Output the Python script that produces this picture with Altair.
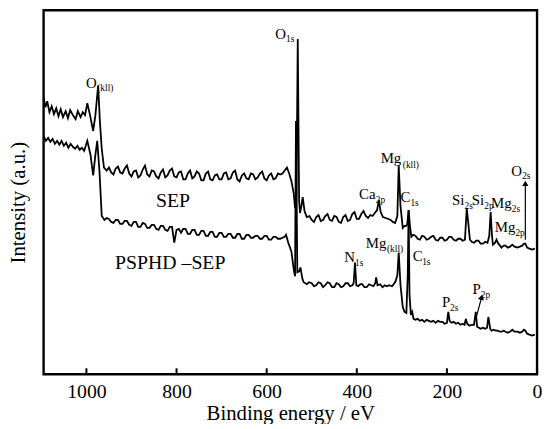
import altair as alt
import pandas as pd

# ---------------- data ----------------
sep_energy = [1095, 1091, 1087, 1082, 1077, 1072, 1067, 1062, 1057, 1052, 1046, 1041, 1036, 1030, 1024, 1019,
              1013, 1008, 1003, 998, 992, 985, 980, 974, 970, 966, 961, 955,
              950, 945, 940, 935, 930, 925, 920, 915, 910, 905, 900, 895, 890, 885, 880, 875, 870, 865, 860, 855,
              850, 845, 840, 835, 830, 825, 820, 815, 810, 805, 800, 795, 790, 785, 780, 775, 770, 765, 760, 755,
              750, 745, 740, 735, 730, 725, 720, 715, 710, 705, 700, 695, 690, 685, 680, 675, 670, 665, 660, 655,
              650, 645, 640, 635, 630, 625, 620, 615, 610, 605, 600, 595, 590, 585, 580, 575, 570, 565, 560, 555,
              550, 545, 540, 537, 534, 531, 528, 526, 523, 520, 516, 511, 505, 500, 495, 490, 485, 480, 475, 470,
              465, 460, 455, 450, 445, 440, 435, 430, 425, 420, 415, 410, 405, 400, 395, 390, 385, 380, 375, 370,
              365, 360, 355, 351, 347, 342, 336, 330, 325, 320, 315, 310, 307, 303, 298, 294, 290, 288, 285, 282,
              279, 275, 270, 265, 260, 255, 250, 245, 240, 235, 230, 225, 220, 215, 210, 205, 200, 195, 190, 185,
              180, 175, 170, 165, 160, 156, 152, 149, 145, 140, 135, 130, 125, 120, 115, 110, 106, 103, 100, 98,
              93, 90, 86, 82, 79, 74, 70, 65, 60, 55, 50, 44, 38, 33, 29, 26, 22, 17, 11, 5]
sep_intensity = [280, 270, 276, 265, 271, 263, 269, 261, 268, 260, 266, 259, 267, 262, 258, 266,
                 260, 265, 262, 274, 262, 246, 262, 292, 255, 228, 209, 206,
                 209, 204, 202, 208, 210, 204, 203, 208, 211, 203, 200, 205, 206, 199, 201, 207, 211, 202, 200, 206,
                 205, 200, 198, 204, 207, 199, 201, 206, 208, 200, 199, 204, 205, 197, 197, 203, 206, 198, 200, 205,
                 203, 196, 196, 203, 205, 197, 196, 201, 202, 197, 197, 203, 204, 197, 198, 204, 206, 197, 195, 201,
                 203, 198, 197, 203, 202, 197, 199, 203, 205, 198, 196, 201, 203, 197, 198, 203, 202, 203, 206, 209,
                 203, 195, 183, 168, 180, 339, 175, 163, 170, 179, 165, 159, 160, 156, 154, 159, 161, 155, 156, 160,
                 162, 156, 155, 160, 159, 154, 153, 159, 161, 155, 156, 162, 164, 157, 157, 162, 165, 160, 158, 161,
                 160, 163, 166, 176, 164, 159, 158, 157, 156, 154, 153, 160, 211, 170, 148, 150, 150, 152, 166, 150,
                 139, 141, 140, 137, 136, 140, 139, 136, 137, 139, 140, 136, 135, 138, 138, 135, 136, 139, 139, 136,
                 135, 137, 137, 135, 136, 168, 150, 136, 134, 133, 135, 135, 132, 132, 134, 133, 140, 164, 140, 131,
                 133, 136, 132, 130, 128, 130, 130, 128, 129, 131, 129, 128, 129, 130, 132, 132, 128, 127, 126, 127]

psphd_energy = [1095, 1090, 1085, 1080, 1075, 1070, 1065, 1060, 1055, 1050, 1045, 1040, 1035, 1030, 1025, 1020,
                1015, 1010, 1005, 998, 991, 985, 980, 976, 971, 966, 960, 955,
                950, 945, 940, 935, 930, 925, 920, 915, 910, 905, 900, 895, 890, 885, 880, 875, 870, 865, 860, 855,
                850, 845, 840, 835, 830, 825, 820, 815, 810, 805, 800, 795, 790, 785, 780, 775, 770, 765, 760, 755,
                750, 745, 740, 735, 730, 725, 720, 715, 710, 705, 700, 695, 690, 685, 680, 675, 670, 665, 660, 655,
                650, 645, 640, 635, 630, 625, 620, 615, 610, 605, 600, 595, 590, 585, 580, 575, 570, 565, 560, 557,
                552, 545, 540, 537, 535, 532, 528, 525, 521, 518, 514, 511, 506, 500, 495, 490, 485, 480, 475, 470,
                465, 460, 455, 450, 445, 440, 435, 430, 425, 420, 415, 410, 407, 404, 401, 397, 392, 388, 383, 378,
                373, 368, 363, 359, 357, 354, 348, 343, 338, 333, 328, 322, 318, 314, 310, 307, 303, 298, 294, 290,
                287, 285, 283, 280, 277, 274, 270, 265, 260, 255, 250, 245, 240, 235, 230, 225, 220, 215, 210, 205,
                200, 197, 194, 190, 185, 180, 175, 170, 165, 161, 158, 155, 150, 145, 140, 136, 133, 129, 125, 120,
                115, 111, 108, 104, 101, 96, 92, 87, 83, 79, 74, 70, 65, 60, 55, 50, 44, 38, 33, 29, 26, 22, 17, 11, 5]
psphd_intensity = [241, 236, 239, 235, 238, 233, 236, 232, 236, 231, 234, 229, 233, 230, 228, 231,
                   227, 229, 226, 236, 222, 201, 222, 236, 205, 160, 156, 158,
                   157, 154, 153, 156, 156, 152, 152, 155, 155, 151, 150, 154, 154, 149, 149, 153, 152, 148, 148, 151,
                   151, 147, 146, 150, 150, 146, 145, 149, 149, 133, 146, 147, 143, 147, 147, 142, 142, 146, 146, 141,
                   141, 145, 145, 140, 140, 144, 144, 139, 139, 143, 143, 139, 139, 142, 142, 138, 138, 142, 142, 137,
                   137, 141, 141, 138, 138, 140, 140, 137, 137, 140, 140, 136, 136, 139, 139, 137, 137, 138, 139, 141,
                   133, 124, 106, 99, 256, 103, 104, 108, 97, 93, 92, 91, 93, 92, 89, 90, 93, 92, 88, 90,
                   93, 92, 88, 88, 92, 91, 88, 89, 92, 92, 89, 90, 92, 113, 90, 89, 91, 91, 88, 88,
                   91, 90, 89, 92, 98, 90, 91, 88, 90, 89, 90, 89, 91, 94, 100, 123, 90, 68, 63, 62,
                   100, 166, 80, 60, 63, 56, 55, 56, 54, 55, 53, 55, 54, 53, 54, 52, 54, 53, 53, 51,
                   52, 63, 54, 52, 53, 51, 52, 50, 51, 50, 56, 51, 49, 50, 50, 63, 48, 47, 46, 47,
                   46, 47, 58, 46, 44, 45, 44, 44, 43, 43, 44, 43, 42, 43, 45, 43, 43, 42, 43, 45, 44, 41, 40, 39, 40]

tick_values = [1000, 800, 600, 400, 200, 0]

# peak labels: main text and its subscript
label_text = ["O", "O", "Mg", "Ca", "C", "Si", "Si", "Mg", "Mg", "O", "N", "Mg", "C", "P", "P"]
label_energy = [1001, 581, 347, 395, 303, 189, 145, 102, 94, 57, 428, 380, 276, 211, 143]
label_intensity = [289, 339, 214, 177, 174, 171, 171, 168, 144, 200, 113, 128, 114, 68, 81]
sub_text = ["(kll)", "1s", "(kll)", "2p", "1s", "2s", "2p", "2s", "2p", "2s", "1s", "(kll)", "1s", "2s", "2p"]
sub_energy = [976, 557, 298, 358, 281, 161, 117, 56, 48, 33, 404, 333, 255, 193, 125]
sub_intensity = [286, 336, 209, 173, 170, 167, 167, 164, 140, 197, 109, 124, 110, 64, 77]

series_names = ["SEP", "PSPHD \u2013SEP"]
series_label_energy = [808, 814]
series_label_intensity = [169, 106]

arrow_start_energy = [26, 134]
arrow_start_intensity = [136, 59]
arrow_end_energy = [26, 123]
arrow_end_intensity = [193, 78]
arrow_angle = [0, 15]

FONT = "Liberation Serif"

sep_df = pd.DataFrame({"E": sep_energy, "I": sep_intensity})
psphd_df = pd.DataFrame({"E": psphd_energy, "I": psphd_intensity})
lab_df = pd.DataFrame({"t": label_text, "E": label_energy, "I": label_intensity})
sub_df = pd.DataFrame({"t": sub_text, "E": sub_energy, "I": sub_intensity})
ser_df = pd.DataFrame({"t": series_names, "E": series_label_energy, "I": series_label_intensity})
arr_df = pd.DataFrame({"E": arrow_start_energy, "I": arrow_start_intensity,
                       "E2": arrow_end_energy, "I2": arrow_end_intensity, "a": arrow_angle})
tick_df = pd.DataFrame({"E": tick_values})

xscale = alt.Scale(domain=[0, 1095], reverse=True, nice=False, zero=False)
yscale = alt.Scale(domain=[0, 368], nice=False, zero=False)

xaxis = alt.Axis(values=tick_values, format="d", title="Binding energy / eV", grid=False, domain=False,
                 ticks=False, tickSize=0, labelPadding=8, labelFlush=False,
                 titleBaseline="alphabetic", titleY=46)
yaxis = alt.Axis(labels=False, ticks=False, domain=False, grid=False, title="Intensity (a.u.)",
                 titleX=-25, titleY=194, titleBaseline="middle", titleAlign="center")

xs = alt.X("E:Q", scale=xscale, axis=xaxis)
ys = alt.Y("I:Q", scale=yscale, axis=yaxis)

sep_line = alt.Chart(sep_df).mark_line(color="black", strokeWidth=1.8).encode(x=xs, y=ys)
psphd_line = alt.Chart(psphd_df).mark_line(color="black", strokeWidth=1.8).encode(x=xs, y=ys)

ticks = alt.Chart(tick_df).mark_rule(color="black", strokeWidth=2).encode(
    x=xs, y=alt.value(368), y2=alt.value(362))

labels = alt.Chart(lab_df).mark_text(font=FONT, fontSize=15, align="left", baseline="alphabetic",
                                     color="black").encode(x=xs, y=ys, text="t:N")
subs = alt.Chart(sub_df).mark_text(font=FONT, fontSize=9.5, align="left", baseline="alphabetic",
                                   color="black").encode(x=xs, y=ys, text="t:N")
series_lab = alt.Chart(ser_df).mark_text(font=FONT, fontSize=20, align="center", baseline="alphabetic",
                                         color="black").encode(x=xs, y=ys, text="t:N")

arrow_lines = alt.Chart(arr_df).mark_rule(color="black", strokeWidth=1.2).encode(
    x=xs, y=ys, x2="E2:Q", y2="I2:Q")
arrow_heads = alt.Chart(arr_df).mark_point(shape="triangle-up", filled=True, color="black",
                                           size=40, opacity=1).encode(
    x=alt.X("E2:Q", scale=xscale, axis=xaxis), y=alt.Y("I2:Q", scale=yscale, axis=yaxis),
    angle=alt.Angle("a:Q", scale=None))

chart = alt.layer(sep_line, psphd_line, ticks, arrow_lines, arrow_heads, labels, subs, series_lab).properties(
    width=499, height=368, autosize="none",
    padding={"left": 36, "top": 0, "right": 5, "bottom": 48},
    background="white",
).configure_view(stroke="black", strokeWidth=2.4).configure_axis(
    labelFont=FONT, titleFont=FONT, labelColor="black", titleColor="black",
    labelFontSize=20, titleFontSize=21, titleFontWeight="normal"
).configure_text(font=FONT)

chart.save("out.html", embed_options={"renderer": "svg", "actions": False})
